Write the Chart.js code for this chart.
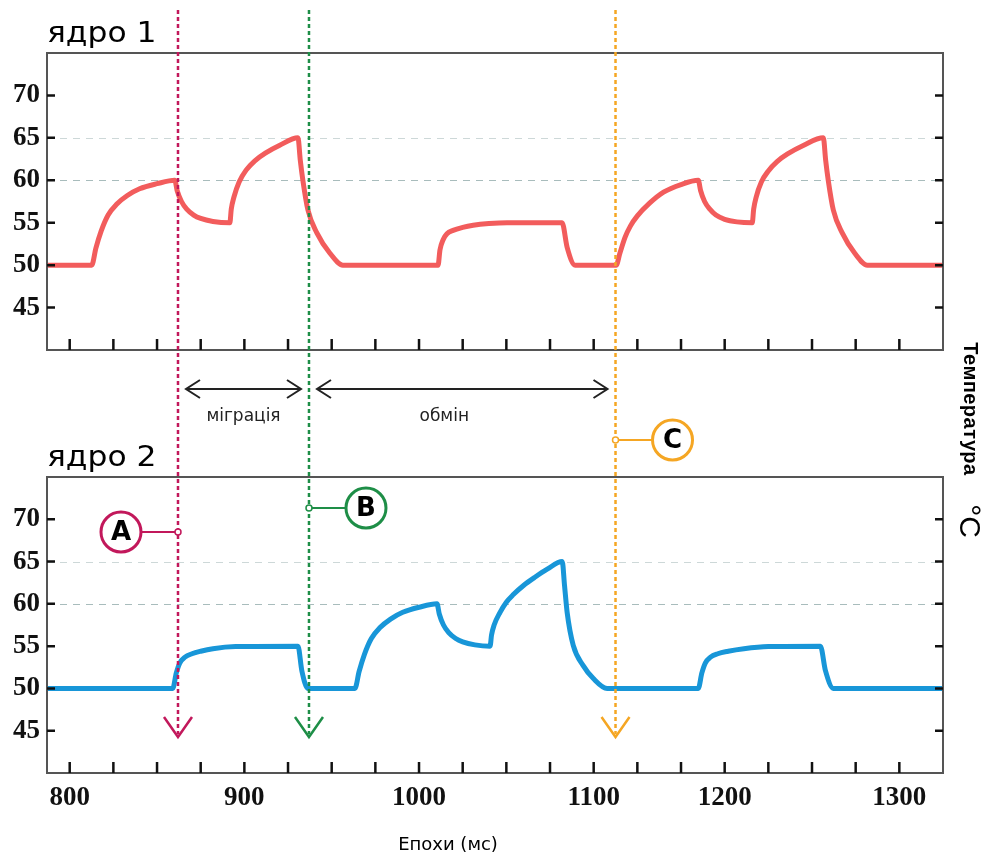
<!DOCTYPE html>
<html>
<head>
<meta charset="utf-8">
<script src="https://cdn.jsdelivr.net/npm/chart.js@4.4.0/dist/chart.umd.min.js"></script>
<style>
    body { margin: 0; background: #fff; }
    .layer { position: absolute; left: 0; top: 0; }
</style>
</head>
<body>
<canvas id="core1" class="layer" width="983" height="856"></canvas>
<canvas id="core2" class="layer" width="983" height="856"></canvas>
<script>
// temperature traces, time in ms
const core1Time = [787, 812.6,
    815, 818, 822, 827, 833, 840, 850, 860.2,
    861.5, 864, 867, 871, 875, 882, 891.7,
    892.5, 894, 897, 901, 906, 912, 920, 930.7,
    932, 933.5, 936.4, 941.5, 949, 956.4,
    1010.9, 1012, 1013.8, 1016, 1019.5, 1025, 1031, 1040, 1050.4, 1081.9,
    1084.8, 1089.4,
    1112.9, 1115, 1118, 1121, 1125, 1132, 1140, 1150, 1159.9,
    1161.2, 1163.5, 1166.5, 1170, 1175, 1182, 1190.8,
    1191.6, 1193, 1196, 1200, 1205, 1211, 1220, 1231.5,
    1232.8, 1234.3, 1237.2, 1242.3, 1249.5, 1256.7,
    1300]
const core1Temp = [50, 50,
    52, 54, 55.9, 57.2, 58.2, 59, 59.6, 60,
    58.8, 57.5, 56.6, 55.9, 55.5, 55.15, 55,
    56.6, 58, 59.8, 61.2, 62.3, 63.2, 64.1, 65,
    62.4, 60, 56.5, 53.8, 51.4, 50,
    50, 51.8, 53, 53.7, 54.1, 54.45, 54.7, 54.9, 55, 55,
    52.1, 50,
    50, 51.4, 53.3, 54.6, 55.8, 57.3, 58.6, 59.5, 60,
    58.8, 57.5, 56.6, 55.9, 55.4, 55.1, 55,
    56.6, 58, 59.8, 61.1, 62.2, 63.1, 64.1, 65,
    62.4, 60, 56.5, 53.8, 51.4, 50,
    50]

const core2Time = [787, 859,
    861, 863, 866, 870, 875, 882, 895, 930.7,
    932.9, 936.4,
    963.3, 965.7, 968.7, 972.7, 977.7, 983.7, 990.7, 1000, 1010.3,
    1011.6, 1014, 1017, 1021, 1025, 1032, 1040.7,
    1041.5, 1043, 1046.4, 1050, 1054, 1060, 1066, 1073.4, 1082,
    1083.3, 1084.8, 1088.3, 1094, 1099.7, 1107.7,
    1159.9, 1161.9, 1163.9, 1166.9, 1171, 1177, 1186, 1200, 1229.8,
    1232.7, 1237.3,
    1300]
const core2Temp = [50, 50,
    51.8, 53, 53.7, 54.1, 54.4, 54.7, 54.95, 55,
    52.1, 50,
    50, 52, 54, 55.9, 57.2, 58.2, 59, 59.6, 60,
    58.8, 57.5, 56.6, 55.9, 55.5, 55.15, 55,
    56.3, 57.5, 59, 60.2, 61.1, 62.2, 63.1, 64.1, 65,
    62.2, 59, 55.1, 52.7, 51.2, 50,
    50, 51.8, 53, 53.7, 54.1, 54.4, 54.7, 54.95, 55,
    52.1, 50,
    50]

const xTicks = [800, 825, 850, 875, 900, 925, 950, 975, 1000, 1025,
    1050, 1075, 1100, 1125, 1150, 1175, 1200, 1225, 1250, 1275]
const xTickLabels = ['800', '', '', '', '900', '', '', '', '1000', '',
    '', '', '1100', '', '', '1200', '', '', '', '1300']
const yTicks = [45, 50, 55, 60, 65, 70]
const yGridLines = [60, 65]

const coreTitles = ['ядро 1', 'ядро 2']
const xTitle = 'Епохи (мс)'
const yTitle = 'Температура'
const yUnit = '°C'

const eventNames = ['A', 'B', 'C']
const eventTimes = [862, 937, 1112.5]
const phaseNames = ['міграція', 'обмін']
const phaseStart = [0, 1]
const phaseEnd = [1, 2]

const COLORS = {
    core1: '#f25c5c',
    core2: '#1896d8',
    events: ['#c2185b', '#1e8e47', '#f5a623'],
    grid: { 60: '#a8bcbc', 65: '#cdd8d8' },
    frame: '#555',
    text: '#111',
}
const AXIS_FONT = { family: "'Liberation Serif', 'Times New Roman', serif", size: 27, weight: 'bold' }
const SANS = "'DejaVu Sans', 'Open Sans', sans-serif"

// frame, inner ticks and dashed guide lines for one panel
const panelFrame = {
    id: 'panelFrame',
    beforeDatasetsDraw(chart) {
        const { ctx, chartArea: a, scales: { y } } = chart
        ctx.save()
        ctx.lineWidth = 1.2
        ctx.setLineDash([7, 6])
        yGridLines.forEach((v) => {
            const py = Math.round(y.getPixelForValue(v)) + 0.5
            ctx.strokeStyle = COLORS.grid[v]
            ctx.beginPath()
            ctx.moveTo(a.left, py)
            ctx.lineTo(a.right, py)
            ctx.stroke()
        })
        ctx.restore()
    },
    afterDatasetsDraw(chart) {
        const { ctx, chartArea: a, scales: { x, y } } = chart
        const opts = chart.options.plugins.panelFrame
        ctx.save()
        ctx.strokeStyle = COLORS.frame
        ctx.lineWidth = 2
        ctx.strokeRect(a.left, a.top, a.right - a.left, a.bottom - a.top)

        ctx.strokeStyle = '#111'
        ctx.lineWidth = 2.5
        xTicks.forEach((v) => {
            const px = x.getPixelForValue(v)
            ctx.beginPath()
            ctx.moveTo(px, a.bottom)
            ctx.lineTo(px, a.bottom - 11)
            ctx.stroke()
        })
        yTicks.forEach((v) => {
            const py = y.getPixelForValue(v)
            ctx.beginPath()
            ctx.moveTo(a.left, py)
            ctx.lineTo(a.left + 8, py)
            ctx.moveTo(a.right, py)
            ctx.lineTo(a.right - 8, py)
            ctx.stroke()
        })

        // panel caption, slightly widened letterforms
        ctx.fillStyle = '#000'
        ctx.font = `28px ${SANS}`
        ctx.textAlign = 'left'
        ctx.textBaseline = 'alphabetic'
        ctx.translate(a.left, a.top - 11)
        ctx.scale(1.12, 1)
        ctx.fillText(opts.title, 0, 0)
        ctx.restore()
    },
}

// event lines, phase arrows, callouts and shared axis titles
const eventMarks = {
    id: 'eventMarks',
    afterDraw(chart) {
        const { ctx, chartArea: a, scales: { x } } = chart
        const d = chart.options.plugins.eventMarks
        const px = eventTimes.map((t) => x.getPixelForValue(t))
        ctx.save()

        px.forEach((p, i) => {
            const c = COLORS.events[i]
            ctx.strokeStyle = c
            ctx.lineWidth = 2.5
            ctx.setLineDash([4, 3])
            ctx.beginPath()
            ctx.moveTo(p, d.lineTop)
            ctx.lineTo(p, d.tipY - 3)
            ctx.stroke()
            ctx.setLineDash([])
            ctx.lineWidth = 2.5
            ctx.beginPath()
            ctx.moveTo(p - 14, d.tipY - 20)
            ctx.lineTo(p, d.tipY)
            ctx.lineTo(p + 14, d.tipY - 20)
            ctx.stroke()

            const side = d.calloutSide[i]
            const cy = d.calloutY[i]
            const cx = p + side * d.calloutDx
            ctx.lineWidth = 2
            ctx.beginPath()
            ctx.moveTo(p + side * 3, cy)
            ctx.lineTo(cx - side * d.circleR, cy)
            ctx.stroke()
            ctx.fillStyle = '#fff'
            ctx.lineWidth = 1.5
            ctx.beginPath()
            ctx.arc(p, cy, 3, 0, Math.PI * 2)
            ctx.fill()
            ctx.stroke()
            ctx.lineWidth = 3
            ctx.beginPath()
            ctx.arc(cx, cy, d.circleR, 0, Math.PI * 2)
            ctx.fill()
            ctx.stroke()
            ctx.fillStyle = '#000'
            ctx.font = `bold 26px ${SANS}`
            ctx.textAlign = 'center'
            ctx.textBaseline = 'middle'
            ctx.fillText(eventNames[i], cx, cy + 1)
        })

        ctx.strokeStyle = '#222'
        ctx.fillStyle = '#222'
        ctx.lineWidth = 2
        phaseNames.forEach((name, k) => {
            const x0 = px[phaseStart[k]] + 8
            const x1 = px[phaseEnd[k]] - 8
            const y0 = d.phaseY
            ctx.beginPath()
            ctx.moveTo(x0, y0)
            ctx.lineTo(x1, y0)
            ctx.moveTo(x0 + 14, y0 - 9)
            ctx.lineTo(x0, y0)
            ctx.lineTo(x0 + 14, y0 + 9)
            ctx.moveTo(x1 - 14, y0 - 9)
            ctx.lineTo(x1, y0)
            ctx.lineTo(x1 - 14, y0 + 9)
            ctx.stroke()
            ctx.font = `17px ${SANS}`
            ctx.textAlign = 'center'
            ctx.textBaseline = 'alphabetic'
            ctx.fillText(name, (x0 + x1) / 2 + d.phaseLabelShift[k], d.phaseLabelY)
        })

        ctx.fillStyle = '#000'
        ctx.font = `18px ${SANS}`
        ctx.textAlign = 'center'
        ctx.fillText(xTitle, (a.left + a.right) / 2 - 47, 850)

        ctx.translate(970, 409)
        ctx.rotate(Math.PI / 2)
        ctx.font = "bold 20px 'Liberation Sans', Arial, sans-serif"
        ctx.letterSpacing = '0.5px'
        ctx.textBaseline = 'middle'
        ctx.fillText(yTitle, 0, 0)
        ctx.letterSpacing = '0px'
        ctx.font = "30px 'Liberation Sans', Arial, sans-serif"
        ctx.fillText(yUnit, 112, 2)
        ctx.restore()
    },
}

function makePanel(canvasId, time, temp, color, panel) {
    const points = time.map((t, i) => ({ x: t, y: temp[i] }))
    return new Chart(document.getElementById(canvasId), {
        type: 'line',
        data: {
            datasets: [{
                data: points,
                borderColor: color,
                borderWidth: 5,
                pointRadius: 0,
                cubicInterpolationMode: 'monotone',
                fill: false,
            }],
        },
        options: {
            responsive: false,
            animation: false,
            events: [],
            layout: { padding: panel.padding },
            plugins: {
                legend: { display: false },
                tooltip: { enabled: false },
                panelFrame: { title: panel.title },
                eventMarks: panel.marks || {},
            },
            scales: {
                x: {
                    type: 'linear',
                    min: 787,
                    max: 1300,
                    grid: { display: false, drawTicks: false },
                    border: { display: false },
                    afterBuildTicks: (s) => { s.ticks = xTicks.map((v) => ({ value: v })) },
                    afterFit: (s) => { s.height = panel.xAxisHeight },
                    ticks: {
                        display: panel.showXLabels,
                        autoSkip: false,
                        maxRotation: 0,
                        padding: 9,
                        color: COLORS.text,
                        font: AXIS_FONT,
                        callback: (v, i) => xTickLabels[i],
                    },
                },
                y: {
                    min: 40,
                    max: 75,
                    grid: { display: false, drawTicks: false },
                    border: { display: false },
                    afterBuildTicks: (s) => { s.ticks = yTicks.map((v) => ({ value: v })) },
                    afterFit: (s) => { s.width = 47 },
                    ticks: {
                        padding: 7,
                        color: COLORS.text,
                        font: AXIS_FONT,
                        callback: (v) => String(v),
                    },
                },
            },
        },
        plugins: panel.marks ? [panelFrame, eventMarks] : [panelFrame],
    })
}

makePanel('core1', core1Time, core1Temp, COLORS.core1, {
    title: coreTitles[0],
    padding: { left: 0, right: 40, top: 53, bottom: 506 },
    xAxisHeight: 0,
    showXLabels: false,
})

makePanel('core2', core2Time, core2Temp, COLORS.core2, {
    title: coreTitles[1],
    padding: { left: 0, right: 40, top: 477, bottom: 43 },
    xAxisHeight: 40,
    showXLabels: true,
    marks: {
        lineTop: 10,
        tipY: 737,
        calloutSide: [-1, 1, 1],
        calloutY: [532, 508, 440],
        calloutDx: 57,
        circleR: 20,
        phaseY: 389,
        phaseLabelY: 421,
        phaseLabelShift: [0, -18],
    },
})
</script>
</body>
</html>
